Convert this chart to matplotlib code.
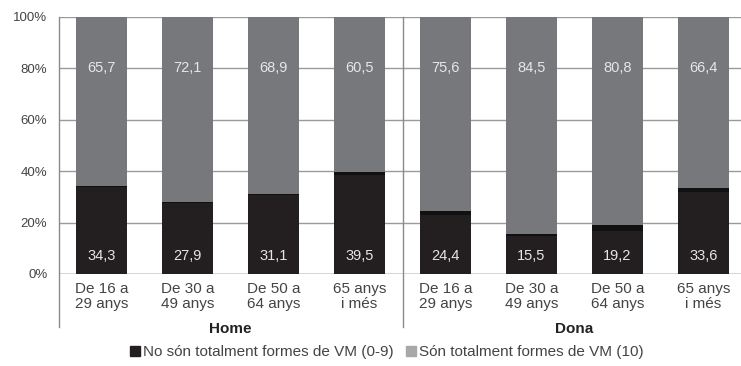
import matplotlib.pyplot as plt
from matplotlib.patches import Patch
import numpy as np

# 各組年齡與性別
categories = ['De 16 a\n29 anys', 'De 30 a\n49 anys', 'De 50 a\n64 anys', '65 anys\ni més',
              'De 16 a\n29 anys', 'De 30 a\n49 anys', 'De 50 a\n64 anys', '65 anys\ni més']
groups = ['Home', 'Dona']
no_vm = [34.3, 27.9, 31.1, 39.5, 24.4, 15.5, 19.2, 33.6]   # No són totalment formes de VM (0-9)
si_vm = [65.7, 72.1, 68.9, 60.5, 75.6, 84.5, 80.8, 66.4]   # Són totalment formes de VM (10)
# 深色段頂端的黑色細帶
band = [0.4, 0.4, 0.4, 1.2, 1.6, 0.8, 2.4, 1.6]

plt.rcParams['font.family'] = ['Liberation Sans', 'DejaVu Sans']

DARK = '#231f20'
BAND = '#111111'
GREY = '#77787b'
TXT = '#444444'

fig = plt.figure(figsize=(7.41, 3.66), dpi=100)
ax = fig.add_axes([58.5 / 741, 92 / 366, 1 - 58.5 / 741, 257.3 / 366])
ax.set_axisbelow(True)

x = np.arange(len(categories))
w = 51 / 86
no_vm = np.array(no_vm)
band = np.array(band)
si_vm = np.array(si_vm)

ax.bar(x, no_vm - band, w, color=DARK, zorder=2)
ax.bar(x, band, w, bottom=no_vm - band, color=BAND, zorder=2)
ax.bar(x, si_vm, w, bottom=no_vm, color=GREY, zorder=2)

# 數值標籤
for i in range(len(x)):
    ax.text(x[i], 7, f'{no_vm[i]:.1f}'.replace('.', ','), ha='center', va='center',
            color='#e6e6e6', fontsize=10.5, zorder=3)
    ax.text(x[i], 80, f'{si_vm[i]:.1f}'.replace('.', ','), ha='center', va='center',
            color='#e6e6e6', fontsize=10.5, zorder=3)

ax.set_xlim(-0.5, (741 - 58.5) / 86 - 0.5)
ax.set_ylim(0, 100)
ax.set_yticks(range(0, 101, 20))
ax.set_yticklabels([f'{v}%' for v in range(0, 101, 20)], color=TXT, fontsize=9.5)
ax.yaxis.grid(True, color='#9a9a9a', lw=1)
ax.tick_params(axis='y', length=0, pad=8)
ax.set_xticks(x)
ax.set_xticklabels(categories, color=TXT, fontsize=11, linespacing=1.1)
ax.tick_params(axis='x', length=0, pad=6)

for s in ['top', 'right', 'bottom', 'left']:
    ax.spines[s].set_visible(False)

# 左邊線與分組線延伸至組名區域
ext = -53 / 257.3
ax.plot([-0.5, -0.5], [ext * 100, 100], color='#8a8a8a', lw=1, clip_on=False, zorder=1)
ax.plot([3.5, 3.5], [ext * 100, 100], color='#8a8a8a', lw=1, clip_on=False, zorder=1)
ax.axhline(0, color='#8a8a8a', lw=1, zorder=1)

ax.text(1.5, ext * 100 - 0.6, groups[0], ha='center', va='center', fontsize=11,
        fontweight='bold', color='#222222')
ax.text(5.5, ext * 100 - 0.6, groups[1], ha='center', va='center', fontsize=11,
        fontweight='bold', color='#222222')

# 圖例
handles = [Patch(color=DARK, label='No són totalment formes de VM (0-9)'),
           Patch(color='#a7a8aa', label='Són totalment formes de VM (10)')]
fig.legend(handles=handles, loc='center', bbox_to_anchor=(0.522, 14 / 366), ncol=2,
           frameon=False, fontsize=11, handlelength=0.65, handleheight=0.65,
           handletextpad=0.2, columnspacing=0.8, labelcolor=TXT)

fig.savefig('out.png', dpi=100)
